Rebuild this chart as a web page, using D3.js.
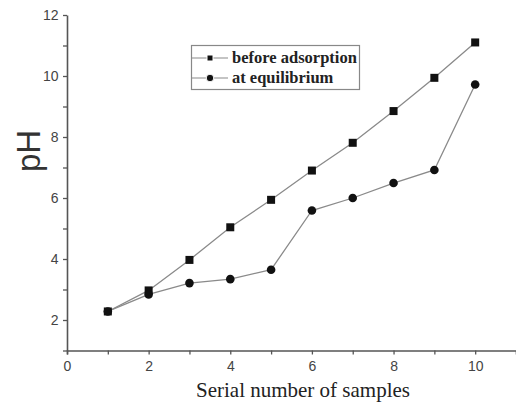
<!DOCTYPE html>
<html><head><meta charset="utf-8">
<script src="https://cdn.jsdelivr.net/npm/d3@7"></script>
<style>body{margin:0;background:#fff}</style>
</head><body>
<svg id="c" width="516" height="402"></svg>
<script>
const samples = [1,2,3,4,5,6,7,8,9,10];
const beforeAdsorption = [2.28,2.97,3.97,5.04,5.94,6.90,7.81,8.85,9.94,11.1];
const atEquilibrium = [2.28,2.84,3.21,3.34,3.65,5.59,6.0,6.49,6.92,9.72];
const xTicks = [0,2,4,6,8,10];
const yTicks = [2,4,6,8,10,12];
const seriesNames = ["before adsorption","at equilibrium"];

const SERIF = "'Liberation Serif'";
const SANS = "'Liberation Sans'";
const svg = d3.select("#c");
const x = d3.scaleLinear().domain([0,11]).range([67,516]);
const y = d3.scaleLinear().domain([1,12]).range([350.5,15]);
const axisColor = "#555";

// x axis
const gx = svg.append("g").attr("transform","translate(0,350.5)");
gx.call(d3.axisBottom(x).tickValues(d3.range(0,11,1)).tickSize(4).tickFormat(d=>xTicks.includes(d)?d:""));
gx.select(".domain").attr("stroke",axisColor).attr("stroke-width",1.6);
gx.selectAll(".tick line").attr("stroke",axisColor).attr("stroke-width",1.3);
gx.selectAll(".tick text").style("font-family",SANS).style("font-size","14px").attr("fill","#444").attr("dy","0.95em");

// y axis
const gy = svg.append("g").attr("transform","translate(67,0)");
gy.call(d3.axisLeft(y).tickValues(d3.range(1,13,1)).tickSize(4).tickSizeOuter(0).tickFormat(d=>yTicks.includes(d)?d:""));
gy.select(".domain").attr("stroke",axisColor).attr("stroke-width",1.6);
gy.selectAll(".tick line").attr("stroke",axisColor).attr("stroke-width",1.3);
gy.selectAll(".tick text").style("font-family",SANS).style("font-size","14px").attr("fill","#444").attr("dx","-0.1em");

// labels
svg.append("text").attr("x",303).attr("y",397).attr("text-anchor","middle")
  .style("font-family",SERIF).style("font-size","21px").attr("fill","#222")
  .text("Serial number of samples");
svg.append("text").attr("transform","translate(40,151) rotate(-90)").attr("text-anchor","middle")
  .style("font-family",SANS).style("font-size","33px").attr("fill","#333")
  .text("pH");

const line = d3.line().x((d,i)=>x(samples[i])).y(d=>y(d));
const lineColor = "#8a8a8a";
svg.append("path").datum(beforeAdsorption).attr("d",line).attr("fill","none").attr("stroke",lineColor).attr("stroke-width",1.3);
svg.append("path").datum(atEquilibrium).attr("d",line).attr("fill","none").attr("stroke",lineColor).attr("stroke-width",1.3);

svg.selectAll("rect.sq").data(beforeAdsorption).enter().append("rect").attr("class","sq")
  .attr("x",(d,i)=>x(samples[i])-4).attr("y",d=>y(d)-4).attr("width",8).attr("height",8).attr("fill","#111");
svg.selectAll("circle.ci").data(atEquilibrium).enter().append("circle").attr("class","ci")
  .attr("cx",(d,i)=>x(samples[i])).attr("cy",d=>y(d)).attr("r",4.3).attr("fill","#111");

// legend
const lg = svg.append("g");
lg.append("rect").attr("x",191.5).attr("y",45.5).attr("width",168).attr("height",44).attr("fill","#fff").attr("stroke","#888").attr("stroke-width",1.2);
const rows = [58, 78];
seriesNames.forEach((n,i)=>{
  lg.append("line").attr("x1",192).attr("x2",228).attr("y1",rows[i]).attr("y2",rows[i]).attr("stroke",lineColor).attr("stroke-width",1.2);
  if(i===0) lg.append("rect").attr("x",207).attr("y",rows[i]-3).attr("width",6).attr("height",6).attr("fill","#111").attr("stroke","#fff").attr("stroke-width",1);
  else lg.append("circle").attr("cx",210).attr("cy",rows[i]).attr("r",3.8).attr("fill","#111").attr("stroke","#fff").attr("stroke-width",1);
  lg.append("text").attr("x",232).attr("y",rows[i]+5)
    .style("font-family",SERIF).style("font-weight","bold").style("font-size","16.5px").attr("fill","#222").text(n);
});
</script>
</body></html>
